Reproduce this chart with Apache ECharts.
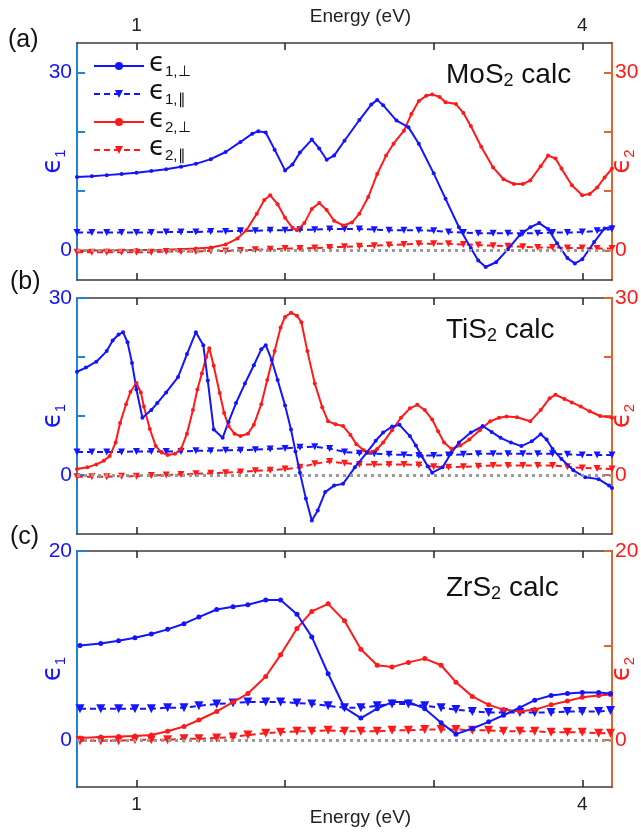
<!DOCTYPE html>
<html>
<head>
<meta charset="utf-8">
<script src="https://cdn.jsdelivr.net/npm/echarts@6/dist/echarts.min.js"></script>
<style>
  html, body { margin: 0; padding: 0; background: #fff; }
  #chart { width: 641px; height: 837px; }
</style>
</head>
<body>
<div id="chart"></div>
<script>
// energy grid used by the parallel components (eV)
var energyGrid = [0.6, 0.7, 0.8, 0.9, 1.0, 1.1, 1.2, 1.3, 1.4, 1.5, 1.6, 1.7, 1.8, 1.9, 2.0, 2.1, 2.2, 2.3, 2.4,
    2.5, 2.6, 2.7, 2.8, 2.9, 3.0, 3.1, 3.2, 3.3, 3.4, 3.5, 3.6, 3.7, 3.8, 3.9, 4.0, 4.1, 4.2];

// (a) MoS2
var mos2Eps1Perp = [[0.6, 12.4], [0.7, 12.5], [0.8, 12.7], [0.9, 12.9], [1.0, 13.1], [1.1, 13.4], [1.2, 13.7],
    [1.3, 14.1], [1.4, 14.6], [1.5, 15.4], [1.6, 16.6], [1.7, 18.3], [1.78, 19.7], [1.82, 20.1], [1.87, 19.9],
    [1.93, 17.0], [2.0, 13.5], [2.05, 14.5], [2.1, 16.5], [2.18, 18.7], [2.23, 17.2], [2.28, 15.3], [2.33, 16.0],
    [2.4, 18.5], [2.5, 22.0], [2.58, 24.6], [2.62, 25.4], [2.66, 24.5], [2.75, 21.9], [2.83, 20.8], [2.9, 18.0],
    [3.0, 13.0], [3.08, 8.7], [3.17, 3.9], [3.25, 0.4], [3.3, -1.7], [3.35, -2.8], [3.42, -2.0], [3.5, 0.2],
    [3.58, 2.6], [3.65, 3.9], [3.71, 4.6], [3.77, 3.6], [3.83, 1.2], [3.9, -1.3], [3.95, -2.2], [4.0, -1.5],
    [4.08, 1.4], [4.15, 3.7], [4.2, 4.0]];
var mos2Eps2Perp = [[0.6, 0], [0.8, 0], [1.0, 0.05], [1.2, 0.1], [1.4, 0.3], [1.5, 0.5], [1.6, 1.0], [1.68, 2.0],
    [1.74, 3.4], [1.81, 6.2], [1.86, 8.5], [1.9, 9.3], [1.95, 7.8], [2.0, 5.5], [2.05, 3.8], [2.08, 3.4],
    [2.13, 4.6], [2.18, 7.0], [2.23, 8.0], [2.28, 6.8], [2.33, 5.0], [2.39, 4.2], [2.45, 4.7], [2.5, 6.2],
    [2.56, 9.0], [2.62, 12.9], [2.68, 16.0], [2.73, 18.0], [2.8, 20.2], [2.85, 23.0], [2.9, 25.2], [2.95, 26.1],
    [2.99, 26.3], [3.04, 25.9], [3.08, 25.0], [3.15, 24.7], [3.2, 23.2], [3.25, 21.0], [3.32, 17.5], [3.4, 14.0],
    [3.47, 12.0], [3.54, 11.2], [3.6, 11.2], [3.65, 11.8], [3.72, 14.2], [3.77, 16.0], [3.82, 15.5], [3.86, 13.8],
    [3.93, 11.0], [4.0, 9.3], [4.05, 9.5], [4.1, 10.6], [4.15, 12.3], [4.2, 13.8]];
var mos2Eps1Par = [3.0, 3.0, 3.0, 3.0, 3.0, 3.0, 3.1, 3.1, 3.1, 3.2, 3.2, 3.3, 3.3, 3.4, 3.4, 3.5, 3.5, 3.6, 3.6,
    3.6, 3.5, 3.4, 3.4, 3.4, 3.3, 3.1, 3.0, 2.9, 2.9, 2.9, 2.9, 2.9, 3.0, 3.0, 3.1, 3.3, 3.6];
var mos2Eps2Par = [-0.3, -0.3, -0.3, -0.3, -0.3, -0.3, -0.2, -0.2, -0.2, -0.1, -0.1, 0.0, 0.1, 0.2, 0.3, 0.3, 0.4,
    0.5, 0.6, 0.7, 0.8, 0.9, 1.0, 1.1, 1.1, 1.1, 1.0, 0.9, 0.8, 0.7, 0.6, 0.5, 0.5, 0.4, 0.4, 0.3, 0.3];

// (b) TiS2
var tis2Eps1Perp = [[0.6, 17.5], [0.66, 18.2], [0.73, 19.2], [0.8, 21.0], [0.84, 22.8], [0.88, 23.8], [0.91, 24.2],
    [0.94, 22.5], [0.97, 19.0], [1.0, 14.5], [1.04, 9.7], [1.1, 11.0], [1.14, 12.2], [1.2, 14.0], [1.28, 16.6],
    [1.34, 20.5], [1.4, 24.2], [1.45, 22.0], [1.48, 16.0], [1.52, 7.7], [1.58, 6.3], [1.62, 9.0], [1.67, 12.2],
    [1.73, 15.5], [1.79, 18.6], [1.84, 21.3], [1.87, 22.0], [1.91, 19.5], [1.95, 16.1], [2.0, 11.8], [2.04, 7.7],
    [2.07, 4.0], [2.1, 0.4], [2.14, -4.0], [2.18, -7.7], [2.22, -6.0], [2.27, -2.9], [2.33, -1.8], [2.39, -1.5],
    [2.47, 1.3], [2.55, 3.8], [2.61, 5.8], [2.66, 7.2], [2.72, 8.2], [2.77, 8.5], [2.84, 6.6], [2.88, 5.0],
    [2.92, 3.2], [2.96, 1.5], [2.99, 0.4], [3.06, 1.3], [3.12, 3.8], [3.17, 5.5], [3.25, 7.2], [3.33, 8.3],
    [3.39, 7.3], [3.45, 6.3], [3.52, 5.5], [3.59, 4.9], [3.66, 5.7], [3.72, 6.9], [3.76, 6.0], [3.8, 4.4],
    [3.86, 2.7], [3.94, 0.8], [4.02, -0.4], [4.11, -0.7], [4.18, -1.8], [4.2, -2.2]];
var tis2Eps2Perp = [[0.6, 1.0], [0.67, 1.3], [0.73, 1.8], [0.78, 2.4], [0.82, 3.2], [0.86, 5.5], [0.89, 8.8],
    [0.93, 12.0], [0.96, 14.1], [1.0, 15.6], [1.03, 14.0], [1.05, 11.6], [1.09, 7.8], [1.13, 4.9], [1.17, 3.8],
    [1.21, 3.4], [1.26, 3.6], [1.3, 4.4], [1.34, 7.0], [1.38, 11.0], [1.41, 14.5], [1.44, 17.2], [1.47, 20.0],
    [1.49, 21.5], [1.52, 18.5], [1.56, 13.9], [1.59, 10.5], [1.62, 8.3], [1.66, 7.0], [1.7, 6.6], [1.75, 7.0],
    [1.79, 8.5], [1.84, 12.0], [1.88, 16.1], [1.93, 21.0], [1.97, 25.0], [2.0, 26.8], [2.04, 27.5], [2.08, 27.0],
    [2.11, 25.9], [2.15, 21.0], [2.2, 15.5], [2.25, 11.5], [2.29, 9.1], [2.34, 8.6], [2.39, 8.3], [2.44, 6.8],
    [2.48, 5.2], [2.53, 4.2], [2.57, 3.8], [2.62, 4.4], [2.66, 5.5], [2.72, 7.6], [2.78, 9.7], [2.84, 11.3],
    [2.89, 11.9], [2.94, 11.0], [2.99, 9.4], [3.03, 7.4], [3.07, 5.5], [3.12, 4.4], [3.18, 5.0], [3.24, 6.0],
    [3.31, 7.6], [3.38, 9.1], [3.44, 9.7], [3.49, 9.9], [3.56, 9.8], [3.65, 9.1], [3.72, 11.0], [3.78, 13.0],
    [3.82, 13.6], [3.88, 12.9], [3.93, 12.3], [3.99, 11.6], [4.05, 10.8], [4.12, 10.0], [4.2, 9.7]];
var tis2Eps1Par = [3.9, 3.9, 3.9, 3.9, 4.0, 4.0, 4.0, 4.0, 4.1, 4.1, 4.2, 4.2, 4.3, 4.4, 4.5, 4.7, 4.8, 4.5, 3.9,
    3.7, 3.6, 3.5, 3.4, 3.3, 3.3, 3.4, 3.5, 3.6, 3.6, 3.6, 3.6, 3.6, 3.6, 3.5, 3.4, 3.4, 3.4];
var tis2Eps2Par = [-0.3, -0.3, -0.3, -0.2, -0.2, -0.1, 0.0, 0.1, 0.2, 0.3, 0.4, 0.5, 0.7, 0.8, 1.0, 1.3, 1.9, 2.3,
    2.0, 1.8, 1.8, 1.8, 1.8, 1.7, 1.4, 1.3, 1.4, 1.5, 1.6, 1.6, 1.6, 1.6, 1.6, 1.4, 1.2, 1.1, 1.0];

// (c) ZrS2, coarser energy sampling
var energyC = [0.62, 0.76, 0.88, 0.99, 1.10, 1.21, 1.32, 1.42, 1.54, 1.65, 1.75, 1.87, 1.97, 2.08, 2.18, 2.29, 2.40,
    2.51, 2.62, 2.72, 2.83, 2.94, 3.05, 3.15, 3.26, 3.37, 3.47, 3.58, 3.68, 3.79, 3.90, 4.00, 4.11, 4.19];
var zrs2Eps1Perp = [10.0, 10.2, 10.5, 10.8, 11.2, 11.7, 12.3, 13.0, 13.8, 14.1, 14.3, 14.8, 14.8, 13.3, 10.9, 7.0,
    3.4, 2.3, 3.3, 4.0, 4.0, 3.3, 1.8, 0.6, 1.2, 1.9, 2.6, 3.4, 4.2, 4.7, 4.9, 5.0, 5.0, 4.9];
var zrs2Eps2Perp = [0.2, 0.3, 0.35, 0.4, 0.5, 0.9, 1.4, 2.1, 3.0, 4.0, 4.9, 6.7, 9.0, 11.8, 13.6, 14.4, 12.6, 9.6,
    7.9, 7.7, 8.2, 8.6, 7.9, 6.1, 4.6, 3.7, 3.2, 3.0, 3.2, 3.7, 4.1, 4.5, 4.7, 4.8];
var zrs2Eps1Par = [3.3, 3.3, 3.3, 3.3, 3.3, 3.4, 3.4, 3.6, 3.8, 3.9, 4.0, 4.0, 4.0, 3.9, 3.8, 3.6, 3.4, 3.4, 3.6,
    3.8, 3.8, 3.6, 3.4, 3.2, 3.0, 2.9, 2.9, 2.9, 2.9, 2.9, 3.0, 3.0, 3.0, 3.1];
var zrs2Eps2Par = [-0.1, -0.1, -0.1, 0.0, 0.0, 0.0, 0.1, 0.1, 0.2, 0.3, 0.5, 0.7, 0.8, 0.9, 0.9, 1.0, 0.9, 0.9, 0.9,
    1.0, 1.0, 1.1, 1.1, 1.1, 1.0, 1.0, 0.9, 0.9, 0.9, 0.8, 0.8, 0.8, 0.7, 0.7];

var panelTitles = ['MoS', 'TiS', 'ZrS'];
var yRanges = [[-5, 35], [-10, 30], [-5, 20]];
var yTicks = [[0, 10, 20, 30], [0, 10, 20, 30], [0, 10, 20]];
var yLeftTicks = [[0, 10, 20, 30], [0, 10, 20, 30], [0, 20]];
var yLabels = [[0, 30], [0, 30], [0, 20]];
var xTicks = [1, 2, 3, 4];
var xLabels = [1, 4];

var BLUE = '#1414ff', RED = '#ff1a1a';
var AXBLUE = '#1f84d2', AXORANGE = '#e0672c';
var FONT = 'Liberation Sans, Arial, sans-serif';

var grids = [
    {left: 77, right: 29, top: 43, height: 237, outerBoundsMode: 'none'},
    {left: 77, right: 29, top: 298, height: 236, outerBoundsMode: 'none'},
    {left: 77, right: 29, top: 551, height: 236, outerBoundsMode: 'none'}
];

function pairs(xs, ys) {
    var out = [];
    for (var i = 0; i < xs.length; i++) out.push([xs[i], ys[i]]);
    return out;
}

var epsRich = {
    e: {fontSize: 26, fontFamily: 'DejaVu Sans', padding: [0, 0, 4, 0]},
    s: {fontSize: 15, fontFamily: FONT, padding: [11, 0, 0, 0]}
};

function xAxisCfg(g, pos, showLabel) {
    var ax = {
        type: 'value', gridIndex: g, position: pos, min: 0.6, max: 4.2,
        axisLine: {show: true, onZero: false, lineStyle: {color: '#3c3c3c', width: 1.5}},
        axisTick: {show: true, inside: true, length: 7, customValues: xTicks, lineStyle: {color: '#222', width: 1.5}},
        axisLabel: {show: showLabel, customValues: xLabels, color: '#222', fontSize: 19, fontFamily: FONT, margin: 8},
        splitLine: {show: false}
    };
    if (showLabel) {
        ax.name = 'Energy (eV)';
        ax.nameLocation = 'middle';
        ax.nameMoveOverlap = false;
        ax.nameGap = pos === 'top' ? 17 : 21;
        ax.nameTextStyle = {color: '#222', fontSize: 19, fontFamily: FONT, padding: [0, 0, 0, 32]};
    }
    return ax;
}

function yAxisCfg(g, side) {
    var left = side === 'left';
    return {
        type: 'value', gridIndex: g, position: side, min: yRanges[g][0], max: yRanges[g][1],
        axisLine: {show: true, onZero: false, lineStyle: {color: left ? AXBLUE : AXORANGE, width: 2}},
        axisTick: {show: true, inside: true, length: 8, customValues: left ? yLeftTicks[g] : yTicks[g],
            lineStyle: {color: left ? AXBLUE : AXORANGE, width: 2}},
        axisLabel: {customValues: yLabels[g], color: left ? BLUE : RED, fontSize: 21, fontFamily: FONT,
            margin: left ? 5 : 3},
        splitLine: {show: false},
        name: left ? '{e|ϵ}{s|1}' : '{e|ϵ}{s|2}',
        nameLocation: 'middle', nameRotate: 90, nameGap: left ? 7 : -3,
        nameMoveOverlap: false,
        nameTextStyle: {color: left ? BLUE : RED, rich: epsRich}
    };
}

var xAxes = [], yAxes = [];
for (var g = 0; g < 3; g++) {
    xAxes.push(xAxisCfg(g, 'bottom', g === 2));
    xAxes.push(xAxisCfg(g, 'top', g === 0));
    yAxes.push(yAxisCfg(g, 'left'));
    yAxes.push(yAxisCfg(g, 'right'));
}

function perpSeries(name, data, g, side, color, symSize) {
    return {
        name: name, type: 'line', data: data, xAxisIndex: 2 * g, yAxisIndex: 2 * g + (side === 'left' ? 0 : 1),
        symbol: 'circle', symbolSize: symSize, showSymbol: true,
        lineStyle: {color: color, width: 2}, itemStyle: {color: color}, z: 3
    };
}
function parSeries(name, data, g, side, color, symSize) {
    return {
        name: name, type: 'line', data: data, xAxisIndex: 2 * g, yAxisIndex: 2 * g + (side === 'left' ? 0 : 1),
        symbol: 'triangle', symbolRotate: 180, symbolSize: symSize, showSymbol: true,
        lineStyle: {color: color, width: 2, type: [6, 4]}, itemStyle: {color: color}, z: 2
    };
}
function zeroLine(g) {
    return {
        type: 'line', data: [], xAxisIndex: 2 * g, yAxisIndex: 2 * g, silent: true,
        markLine: {
            silent: true, symbol: ['none', 'none'], label: {show: false},
            lineStyle: {color: '#9a9a9a', type: [3, 4], width: 3},
            data: [{yAxis: 0}]
        }, z: 1
    };
}

var panelData = [
    [mos2Eps1Perp, mos2Eps2Perp, pairs(energyGrid, mos2Eps1Par), pairs(energyGrid, mos2Eps2Par)],
    [tis2Eps1Perp, tis2Eps2Perp, pairs(energyGrid, tis2Eps1Par), pairs(energyGrid, tis2Eps2Par)],
    [pairs(energyC, zrs2Eps1Perp), pairs(energyC, zrs2Eps2Perp), pairs(energyC, zrs2Eps1Par), pairs(energyC, zrs2Eps2Par)]
];

var series = [];
for (var p = 0; p < 3; p++) {
    var d = panelData[p];
    var big = p === 2;
    series.push(zeroLine(p));
    series.push(parSeries('e2par', d[3], p, 'right', RED, big ? 9 : 7));
    series.push(perpSeries('e2perp', d[1], p, 'right', RED, big ? 5 : 4));
    series.push(parSeries('e1par', d[2], p, 'left', BLUE, big ? 9 : 7));
    series.push(perpSeries('e1perp', d[0], p, 'left', BLUE, big ? 5 : 4));
}

var legendText = {
    e1perp: '{e|ϵ}{s|1,⊥}', e1par: '{e|ϵ}{s|1,∥}', e2perp: '{e|ϵ}{s|2,⊥}', e2par: '{e|ϵ}{s|2,∥}'
};

var titles = [];
var titleTops = [55, 310, 568];
for (var t = 0; t < 3; t++) {
    titles.push({
        text: '{a|' + panelTitles[t] + '}{b|2}{a| calc}',
        left: 441, top: titleTops[t],
        textStyle: {
            fontWeight: 'normal',
            rich: {
                a: {fontSize: 28, color: '#111', fontFamily: FONT, fontWeight: 'normal'},
                b: {fontSize: 18, color: '#111', fontFamily: FONT, fontWeight: 'normal', padding: [12, 0, 0, 0]}
            }
        }
    });
}

var myChart = echarts.init(document.getElementById('chart'));
var option = {
    animation: false,
    backgroundColor: '#fff',
    title: titles,
    grid: grids,
    xAxis: xAxes,
    yAxis: yAxes,
    legend: {
        data: ['e1perp', 'e1par', 'e2perp', 'e2par'],
        orient: 'vertical', left: 88, top: 46, itemGap: 0,
        itemWidth: 50, itemHeight: 10,
        formatter: function (name) { return legendText[name]; },
        textStyle: {color: '#111', rich: epsRich}
    },
    graphic: [
        {type: 'text', left: 8, top: 28, style: {text: '(a)', fontSize: 25, fontFamily: FONT, fill: '#111'}},
        {type: 'text', left: 10, top: 270, style: {text: '(b)', fontSize: 25, fontFamily: FONT, fill: '#111'}},
        {type: 'text', left: 10, top: 525, style: {text: '(c)', fontSize: 25, fontFamily: FONT, fill: '#111'}}
    ],
    series: series
};
myChart.setOption(option);
</script>
</body>
</html>
